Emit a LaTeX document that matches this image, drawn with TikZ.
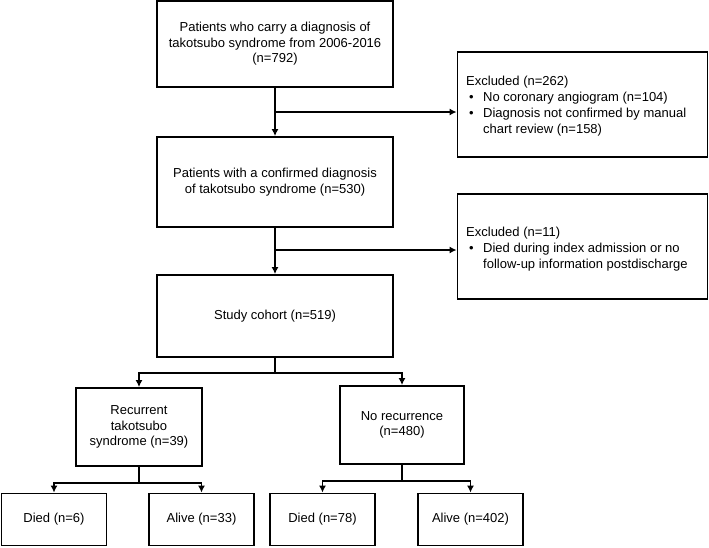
\documentclass[tikz,border=0pt]{standalone}
\usepackage{fontspec}
\setmainfont{Liberation Sans}
\usetikzlibrary{arrows.meta,calc}
\begin{document}
\begin{tikzpicture}[x=1pt,y=-1pt,
  box/.style={draw,line width=1.8pt,align=center,inner sep=2pt,font=\fontsize{13pt}{15.5pt}\selectfont},
  txt/.style={align=left,inner sep=0pt,font=\fontsize{13pt}{15.8pt}\selectfont},
  conn/.style={line width=1.8pt},
  arr/.style={line width=1.8pt,-{Latex[length=7pt,width=7pt]}}]
\fill[white] (0,0) rectangle (709,547);
\useasboundingbox (0,0) rectangle (709,547);

\node[box,minimum width=236pt,minimum height=86pt] (b1) at (275,44)
  {Patients who carry a diagnosis of\\takotsubo syndrome from 2006-2016\\(n=792)};
\node[box,minimum width=236pt,minimum height=90pt] (b2) at (275,182)
  {Patients with a confirmed diagnosis\\of takotsubo syndrome (n=530)};
\node[box,minimum width=236pt,minimum height=82pt] (b3) at (275,316)
  {Study cohort (n=519)};

\node[box,minimum width=250pt,minimum height=105pt] (ex1) at (582.5,104.5) {};
\node[txt,anchor=west] (ex1t) at (466,106)
  {Excluded (n=262)\\
   \makebox[17pt][l]{\hspace{3pt}\textbullet}No coronary angiogram (n=104)\\
   \makebox[17pt][l]{\hspace{3pt}\textbullet}Diagnosis not confirmed by manual\\
   \hspace*{17pt}chart review (n=158)};

\node[box,minimum width=250pt,minimum height=105pt] (ex2) at (582.5,246.5) {};
\node[txt,anchor=west] (ex2t) at (466,249)
  {Excluded (n=11)\\
   \makebox[17pt][l]{\hspace{3pt}\textbullet}Died during index admission or no\\
   \hspace*{17pt}follow-up information postdischarge};

\node[box,minimum width=126pt,minimum height=78pt] (rec) at (139,427)
  {Recurrent\\takotsubo\\syndrome (n=39)};
\node[box,minimum width=124pt,minimum height=78pt] (norec) at (402,425)
  {No recurrence\\(n=480)};

\node[box,minimum width=105pt,minimum height=52pt] (d1) at (54,519.5) {Died (n=6)};
\node[box,minimum width=105pt,minimum height=52pt] (a1) at (201.5,519.5) {Alive (n=33)};
\node[box,minimum width=105pt,minimum height=52pt] (d2) at (322.5,519.5) {Died (n=78)};
\node[box,minimum width=105pt,minimum height=52pt] (a2) at (470.5,519.5) {Alive (n=402)};

\coordinate (j1) at (275,112);
\draw[conn] (b1.south) -- (j1);
\draw[arr] (j1) -- (b2.north);
\draw[arr] (j1) -- (j1 -| ex1.west);

\coordinate (j2) at (275,250);
\draw[conn] (b2.south) -- (j2);
\draw[arr] (j2) -- (b3.north);
\draw[arr] (j2) -- (j2 -| ex2.west);

\coordinate (s1) at (275,373);
\draw[conn] (b3.south) -- (s1);
\draw[arr] (s1) -| (rec.north);
\draw[arr] (s1) -| (norec.north);

\coordinate (s2) at ($(rec.south)+(0,16)$);
\draw[conn] (rec.south) -- (s2);
\draw[arr] (s2) -| (d1.north);
\draw[arr] (s2) -| (a1.north);

\coordinate (s3) at ($(norec.south)+(0,16)$);
\draw[conn] (norec.south) -- (s3);
\draw[arr] (s3) -| (d2.north);
\draw[arr] (s3) -| (a2.north);
\end{tikzpicture}
\end{document}
